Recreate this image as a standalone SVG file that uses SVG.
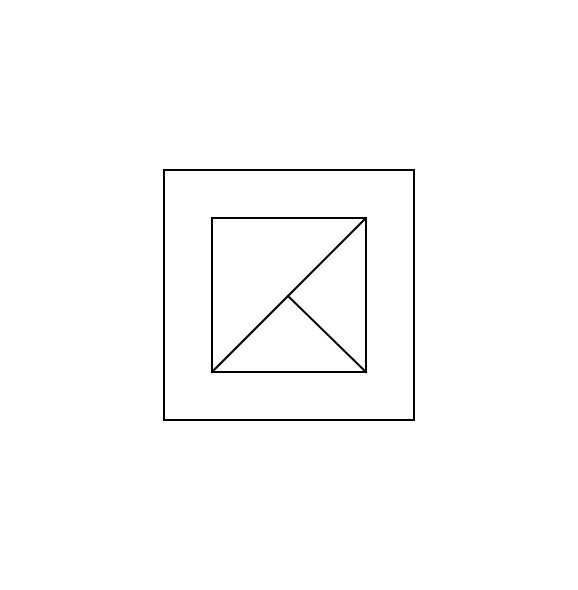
<svg xmlns="http://www.w3.org/2000/svg" width="578" height="590" viewBox="0 0 578 590">
<style>.s{fill:none;stroke:#000;stroke-width:2;stroke-linecap:square}</style>
<rect width="578" height="590" fill="#fff"/>
<g id="outer"><rect class="s" x="164" y="170" width="250" height="250"/></g>
<g id="inner"><rect class="s" x="212" y="218" width="154" height="154"/></g>
<g id="connectors">
<line class="s" x1="212" y1="372" x2="366" y2="218"/>
<line class="s" x1="288" y1="296" x2="366" y2="372"/>
</g>
</svg>
